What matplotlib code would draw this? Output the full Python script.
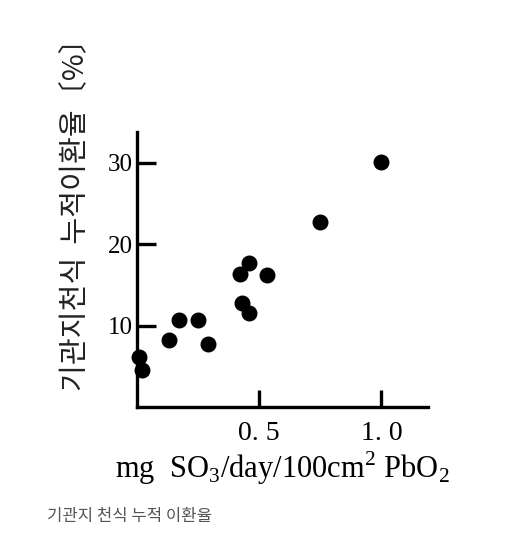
import matplotlib
matplotlib.use("Agg")
import matplotlib.pyplot as plt

# Data
x_vals = [1.0, 0.75, 0.46, 0.42, 0.53, 0.43, 0.46, 0.17, 0.25, 0.13, 0.29, 0.01, 0.02]
y_vals = [30.1, 22.8, 17.7, 16.4, 16.2, 12.8, 11.6, 10.7, 10.7, 8.2, 7.7, 6.1, 4.6]
x_ticks = [0.5, 1.0]
x_tick_labels = ["0. 5", "1. 0"]
y_ticks = [10, 20, 30]
y_tick_labels = ["10", "20", "30"]

plt.rcParams['mathtext.fontset'] = 'custom'
plt.rcParams['mathtext.rm'] = 'Liberation Serif'

fig = plt.figure(figsize=(5.28, 5.54), dpi=100)
ax = fig.add_axes([0.2595, 0.2653, 0.551, 0.4964])

ax.scatter(x_vals, y_vals, s=110, color='black', zorder=3, clip_on=False)
ax.set_xlim(0, 1.19)
ax.set_ylim(0, 33.8)

for side in ['top', 'right']:
    ax.spines[side].set_visible(False)
for side in ['left', 'bottom']:
    ax.spines[side].set_linewidth(2.4)
    ax.spines[side].set_color('black')

ax.set_xticks(x_ticks)
ax.set_xticklabels(x_tick_labels, family='Liberation Serif', fontsize=20)
ax.set_yticks(y_ticks)
ax.set_yticklabels(y_tick_labels, family='Liberation Serif', fontsize=18)
ax.tick_params(axis='x', direction='in', length=12, width=2.4, pad=10)
ax.tick_params(axis='y', direction='in', length=14, width=2.4, pad=3)

fig.text(282 / 528, 1 - 468 / 554, r'mg  SO$_3$/day/100cm$^2$ PbO$_2$',
         family='Liberation Serif', fontsize=22, ha='center', va='center')

fig.text(75 / 528, 1 - 208 / 554, '기관지천식  누적이환율〔%〕', rotation=90,
         family=['Noto Sans CJK KR', 'DejaVu Sans'], fontsize=21,
         ha='center', va='center', color='#222222')

fig.text(47 / 528, 1 - 517 / 554, '기관지 천식 누적 이환율',
         family=['Noto Sans CJK KR', 'DejaVu Sans'], fontsize=12,
         ha='left', va='center', color='#555555')

fig.savefig('out.png', dpi=100)
